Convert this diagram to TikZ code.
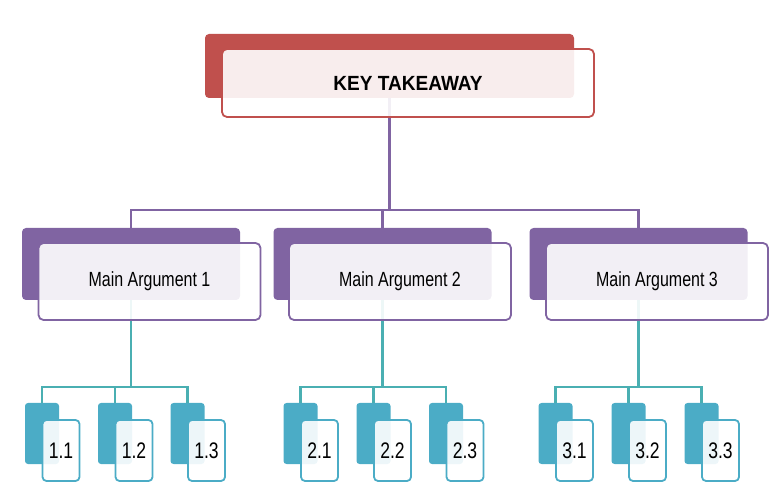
\documentclass[tikz,border=0pt]{standalone}
\usepackage{fontspec}
\setmainfont{Liberation Sans}
\newfontfamily\titlesans[FakeStretch=0.93]{Liberation Sans}
\newfontfamily\narrowsans[FakeStretch=0.78]{Liberation Sans}
\usepackage{tikz}
\definecolor{keyred}{HTML}{C0504D}
\definecolor{argpurple}{HTML}{8064A2}
\definecolor{subteal}{HTML}{4BACC6}
\definecolor{linkteal}{RGB}{74,175,178}

\begin{document}
\begin{tikzpicture}[x=1pt,y=-1pt,
  every node/.style={inner sep=0pt},
  keyback/.style={fill=keyred, rounded corners=4pt, minimum width=369pt, minimum height=64pt},
  keyfront/.style={draw=keyred, line width=1.8pt, fill=white, fill opacity=0.9, text opacity=1,
    rounded corners=5pt, minimum width=372pt, minimum height=68pt,
    font=\titlesans\bfseries\fontsize{20.5}{24}\selectfont},
  argback/.style={fill=argpurple, rounded corners=4pt, minimum width=218pt, minimum height=72pt},
  argfront/.style={draw=argpurple, line width=1.8pt, fill=white, fill opacity=0.9, text opacity=1,
    rounded corners=5pt, minimum width=222pt, minimum height=77pt,
    font=\narrowsans\fontsize{20.5}{24}\selectfont},
  subback/.style={fill=subteal, rounded corners=3pt, minimum width=34pt, minimum height=61pt},
  subfront/.style={draw=subteal, line width=1.8pt, fill=white, fill opacity=0.9, text opacity=1,
    rounded corners=4pt, minimum width=37pt, minimum height=61pt,
    font=\narrowsans\fontsize{22.5}{26}\selectfont},
  keylink/.style={draw=argpurple, line width=2.2pt},
  sublink/.style={draw=linkteal, line width=2.6pt}]
\useasboundingbox (0,0) rectangle (772,497);
% back boxes
\node[keyback] (keyb) at (389.5,66) {};
\node[argback] (argb1) at (131,264) {};
\node[argback] (argb2) at (382.5,264) {};
\node[argback] (argb3) at (638.5,264) {};
\node[subback] (subb11) at (42,433.5) {};
\node[subback] (subb12) at (115,433.5) {};
\node[subback] (subb13) at (187.5,433.5) {};
\node[subback] (subb21) at (300.5,433.5) {};
\node[subback] (subb22) at (373.5,433.5) {};
\node[subback] (subb23) at (446,433.5) {};
\node[subback] (subb31) at (555.5,433.5) {};
\node[subback] (subb32) at (628.5,433.5) {};
\node[subback] (subb33) at (701.5,433.5) {};
% connectors
\coordinate (keybus) at (0,210);
\coordinate (subbus) at (0,387);
\draw[keylink] (keyb.south) -- (keyb.south |- keybus);
\draw[keylink] (argb1.north) -- (argb1.north |- keybus) -- (argb3.north |- keybus) -- (argb3.north);
\draw[keylink] (argb2.north) -- (argb2.north |- keybus);
\draw[sublink] (argb1.south) -- (argb1.south |- subbus);
\draw[sublink] (subb11.north) -- (subb11.north |- subbus) -- (subb13.north |- subbus) -- (subb13.north);
\draw[sublink] (subb12.north) -- (subb12.north |- subbus);
\draw[sublink] (argb2.south) -- (argb2.south |- subbus);
\draw[sublink] (subb21.north) -- (subb21.north |- subbus) -- (subb23.north |- subbus) -- (subb23.north);
\draw[sublink] (subb22.north) -- (subb22.north |- subbus);
\draw[sublink] (argb3.south) -- (argb3.south |- subbus);
\draw[sublink] (subb31.north) -- (subb31.north |- subbus) -- (subb33.north |- subbus) -- (subb33.north);
\draw[sublink] (subb32.north) -- (subb32.north |- subbus);
% front boxes
\node[keyfront] (keyf) at (408,83) {KEY TAKEAWAY};
\node[argfront] (argf1) at (149.5,281.5) {Main Argument 1};
\node[argfront] (argf2) at (400,281.5) {Main Argument 2};
\node[argfront] (argf3) at (657,281.5) {Main Argument 3};
\node[subfront] (subf11) at (61,450.5) {1.1};
\node[subfront] (subf12) at (134,450.5) {1.2};
\node[subfront] (subf13) at (206.5,450.5) {1.3};
\node[subfront] (subf21) at (319.5,450.5) {2.1};
\node[subfront] (subf22) at (392.5,450.5) {2.2};
\node[subfront] (subf23) at (465,450.5) {2.3};
\node[subfront] (subf31) at (574.5,450.5) {3.1};
\node[subfront] (subf32) at (647.5,450.5) {3.2};
\node[subfront] (subf33) at (720.5,450.5) {3.3};
\end{tikzpicture}
\end{document}
